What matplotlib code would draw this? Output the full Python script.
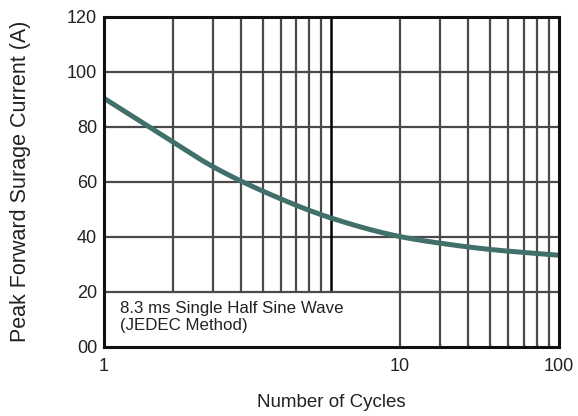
import numpy as np
import matplotlib.pyplot as plt
import matplotlib as mpl
from matplotlib.patches import Rectangle

plt.rcParams['font.family'] = ['Liberation Sans', 'DejaVu Sans']

# curve
cycles = [1, 2, 3, 5, 10, 20, 30, 50, 100]
current = [90.3, 74.5, 65.5, 56.5, 46.7, 40.0, 37.6, 35.3, 33.2]

yticks = [0, 20, 40, 60, 80, 100, 120]
ylabels = ['00', '20', '40', '60', '80', '100', '120']
# the original sheet puts its "10" label under the 20 gridline
xticks = [1, 20, 100]
xlabels = ['1', '10', '100']


def pchip(x, y, xn):
    """monotone cubic through the read points (x in log space)"""
    x = np.asarray(x, float)
    y = np.asarray(y, float)
    h = np.diff(x)
    d = np.diff(y) / h
    m = np.zeros_like(y)
    for k in range(1, len(x) - 1):
        if d[k - 1] * d[k] > 0:
            w1 = 2 * h[k] + h[k - 1]
            w2 = h[k] + 2 * h[k - 1]
            m[k] = (w1 + w2) / (w1 / d[k - 1] + w2 / d[k])
    m[0] = d[0]
    m[-1] = d[-1]
    i = np.clip(np.searchsorted(x, xn) - 1, 0, len(x) - 2)
    t = (xn - x[i]) / h[i]
    h00 = 2 * t**3 - 3 * t**2 + 1
    h10 = t**3 - 2 * t**2 + t
    h01 = -2 * t**3 + 3 * t**2
    h11 = t**3 - t**2
    return h00 * y[i] + h10 * h[i] * m[i] + h01 * y[i + 1] + h11 * h[i] * m[i + 1]


fig = plt.figure(figsize=(5.78, 4.16), dpi=100)
ax = fig.add_axes([0.18, 0.167, 0.787, 0.793])

ax.set_xscale('log')
ax.set_xlim(1, 100)
ax.set_ylim(0, 120)

grid_c = '#4a4a4a'
minor = list(range(2, 10)) + list(range(20, 100, 10))
for v in minor:
    ax.axvline(v, color=grid_c, lw=1.6, zorder=1)
for v in yticks[1:-1]:
    ax.axhline(v, color=grid_c, lw=1.6, zorder=2.5 if v == 20 else 1)
ax.axvline(10, color='black', lw=1.8, zorder=1)

# white box behind the note
ax.add_patch(Rectangle((1, 0), 9.15, 20, facecolor='white', edgecolor='none', zorder=2))

xs = np.logspace(0, 2, 400)
ys = pchip(np.log10(cycles), current, np.log10(xs))
ax.plot(xs, ys, color='#41706b', lw=3.6, zorder=4, solid_capstyle='butt')

ax.text(1.17, 10.8, '8.3 ms Single Half Sine Wave\n(JEDEC Method)', fontsize=12.2,
        color='#222222', va='center', ha='left', zorder=5, linespacing=1.2)

ax.set_xticks(xticks)
ax.set_xticklabels(xlabels)
ax.set_xticks(minor, minor=True)
ax.set_xticklabels([], minor=True)
ax.set_yticks(yticks)
ax.set_yticklabels(ylabels)

ax.tick_params(axis='both', which='major', labelsize=13, labelcolor='#222222', length=0)
ax.tick_params(axis='y', which='major', pad=5)
ax.tick_params(axis='x', which='major', pad=8)
ax.tick_params(axis='x', which='minor', direction='in', length=3, width=1, color=grid_c)

for s in ax.spines.values():
    s.set_linewidth(2.2)
    s.set_color('#111111')
    s.set_zorder(6)

ax.set_ylabel('Peak Forward Surage Current (A)', fontsize=15.5, color='#222222')
ax.yaxis.set_label_coords(-0.16, 0.5)
ax.set_xlabel('Number of Cycles', fontsize=13.5, color='#222222')
ax.xaxis.set_label_coords(0.5, -0.145)

plt.savefig('out.png', dpi=100)
